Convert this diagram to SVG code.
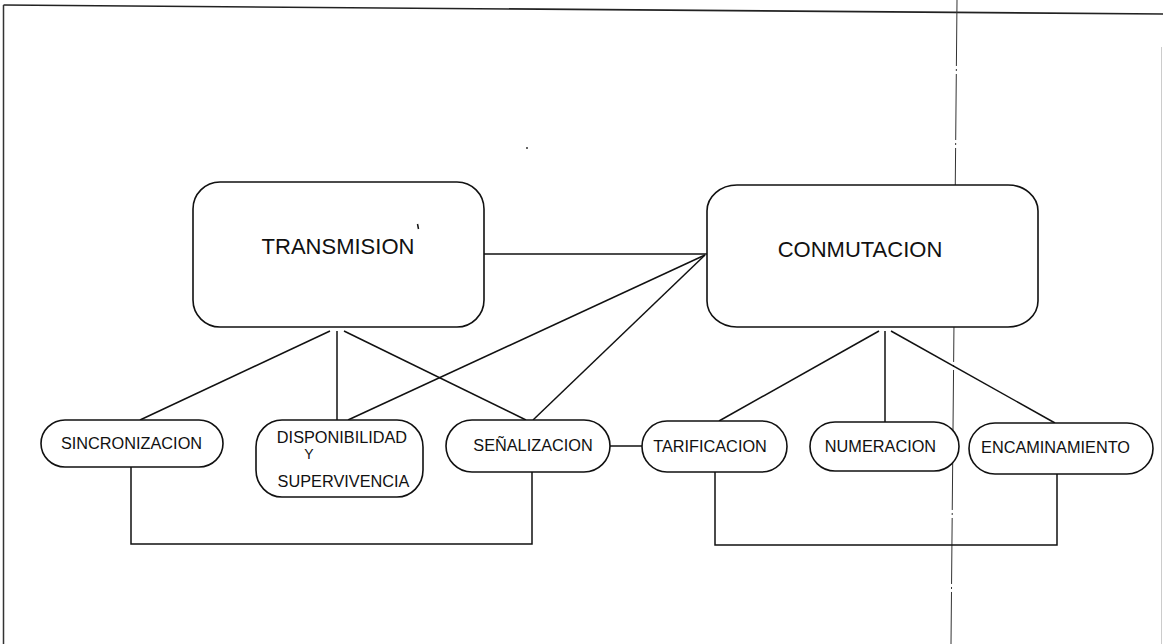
<svg xmlns="http://www.w3.org/2000/svg" width="1163" height="644" viewBox="0 0 1163 644">
<style>
.box{fill:#fff;stroke:#111;stroke-width:1.6}
.lbl{font-family:"Liberation Sans",Arial,sans-serif;font-size:16.3px;fill:#111;text-anchor:middle}
.big{font-family:"Liberation Sans",Arial,sans-serif;font-size:22px;fill:#111;text-anchor:middle}
.ln{fill:none;stroke:#111;stroke-width:1.5}
</style>
<rect width="1163" height="644" fill="#fff"/>
<g id="frame">
<line x1="3.5" y1="5" x2="1163" y2="14" stroke="#222" stroke-width="1.6"/>
<line x1="3.5" y1="5" x2="3.5" y2="644" stroke="#333" stroke-width="1.5"/>
<line x1="1161.5" y1="47" x2="1161.5" y2="644" stroke="#ccc" stroke-width="1"/>
<line x1="957" y1="0" x2="951" y2="644" stroke="#333" stroke-width="1" stroke-dasharray="66 3 2 3"/>
<circle cx="527" cy="148" r="1" fill="#333"/>
</g>
<g id="connectors">
<line class="ln" x1="484" y1="254" x2="707" y2="254"/>
<line class="ln" x1="705" y1="255" x2="348" y2="420"/>
<line class="ln" x1="705" y1="255" x2="533" y2="420"/>
<line class="ln" x1="330" y1="331" x2="140" y2="420"/>
<line class="ln" x1="337" y1="331" x2="337" y2="420"/>
<line class="ln" x1="344" y1="331" x2="526" y2="420"/>
<line class="ln" x1="879" y1="331" x2="719" y2="421"/>
<line class="ln" x1="885" y1="331" x2="885" y2="422"/>
<line class="ln" x1="891" y1="331" x2="1055" y2="423"/>
<line class="ln" x1="610" y1="446" x2="642" y2="446"/>
<polyline class="ln" points="131,467 131,544 532,544 532,472"/>
<polyline class="ln" points="715,472 715,545 1057,545 1057,474"/>
</g>
<g id="transmision">
<rect class="box" x="193" y="182" width="291" height="145" rx="27" ry="27"/>
<text class="big" x="338" y="254">TRANSMISION</text>
<line x1="417.5" y1="224" x2="418.5" y2="229" stroke="#111" stroke-width="1.5"/>
</g>
<g id="conmutacion">
<rect class="box" x="707" y="185" width="331" height="142" rx="30" ry="26"/>
<text class="big" x="860" y="257">CONMUTACION</text>
</g>
<g id="sincronizacion">
<rect class="box" x="41" y="420" width="182" height="47" rx="24" ry="23.5"/>
<text class="lbl" x="131.5" y="449">SINCRONIZACION</text>
</g>
<g id="disponibilidad">
<rect class="box" x="256" y="420" width="167" height="77" rx="26" ry="27"/>
<text class="lbl" x="342" y="443">DISPONIBILIDAD</text>
<text class="lbl" x="309" y="459" style="font-size:14px">Y</text>
<text class="lbl" x="343.5" y="487">SUPERVIVENCIA</text>
</g>
<g id="senalizacion">
<rect class="box" x="446" y="420" width="164" height="52" rx="26" ry="26"/>
<text class="lbl" x="533" y="451">SEÑALIZACION</text>
</g>
<g id="tarificacion">
<rect class="box" x="642" y="421" width="145" height="51" rx="25" ry="25.5"/>
<text class="lbl" x="710" y="452">TARIFICACION</text>
</g>
<g id="numeracion">
<rect class="box" x="810" y="422" width="149" height="49" rx="25" ry="24.5"/>
<text class="lbl" x="880.5" y="452">NUMERACION</text>
</g>
<g id="encaminamiento">
<rect class="box" x="969" y="423" width="184" height="51" rx="26" ry="25.5"/>
<text class="lbl" x="1055.5" y="453">ENCAMINAMIENTO</text>
</g>
</svg>
